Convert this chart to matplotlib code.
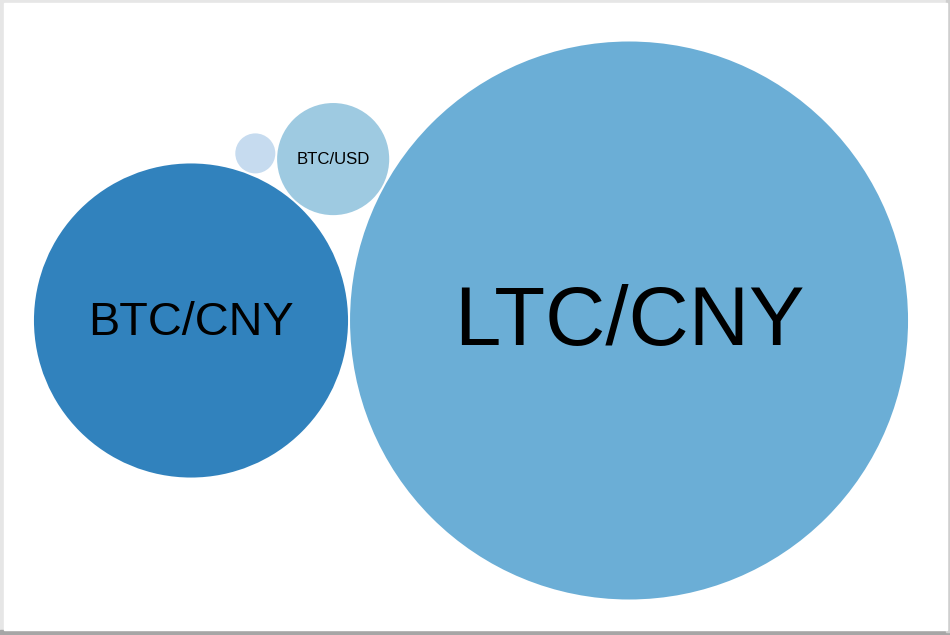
import numpy as np
import matplotlib.pyplot as plt
from matplotlib.patches import Circle, Rectangle

# market volumes per trading pair (bubble area ~ value)
markets = ["LTC/CNY", "BTC/CNY", "BTC/USD", ""]
volumes = [77800, 24650, 3140, 400]
colors = ["#6baed6", "#3182bd", "#9ecae1", "#c6dbef"]

W, H = 950, 635
PAD = 2.0
K = 279 / np.sqrt(max(volumes))  # pixels of radius per sqrt(value)


def tangente(a, b, r, lado):
    """Centro de un circulo de radio r tangente a los circulos a y b."""
    (ax, ay, ra), (bx, by, rb) = a, b
    da, db = ra + r + PAD, rb + r + PAD
    dx, dy = bx - ax, by - ay
    d = np.hypot(dx, dy)
    x = (d ** 2 + da ** 2 - db ** 2) / (2 * d)
    h = np.sqrt(max(da ** 2 - x ** 2, 0))
    ux, uy = dx / d, dy / d
    return ax + ux * x - uy * h * lado, ay + uy * x + ux * h * lado, r


def empacar(valores):
    orden = np.argsort(valores)[::-1]
    radios = [K * np.sqrt(valores[i]) for i in orden]
    c = [(0.0, 0.0, radios[0])]
    c.append((-(radios[0] + radios[1] + PAD), 0.0, radios[1]))
    if len(radios) > 2:
        c.append(tangente(c[1], c[0], radios[2], -1))
    if len(radios) > 3:
        c.append(tangente(c[1], c[2], radios[3], -1))
    res = [None] * len(valores)
    for i, ci in zip(orden, c):
        res[i] = ci
    return res


circulos = empacar(volumes)
xmin = min(x - r for x, y, r in circulos)
xmax = max(x + r for x, y, r in circulos)
ymin = min(y - r for x, y, r in circulos)
ymax = max(y + r for x, y, r in circulos)
ox = 471 - (xmin + xmax) / 2
oy = 320.5 - (ymin + ymax) / 2

fig = plt.figure(figsize=(W / 100, H / 100), dpi=100, facecolor="#e6e6e6")
ax = fig.add_axes([0, 0, 1, 1])
ax.set_xlim(0, W)
ax.set_ylim(H, 0)
ax.set_aspect("equal")
ax.axis("off")

# marco de la pagina
ax.add_patch(Rectangle((0, 630), W, 5, color="#a6a6a6", zorder=0))
ax.add_patch(Rectangle((946, 0), 4, 632, color="#cfcfcf", zorder=0))
ax.add_patch(Rectangle((4, 3), 943, 627, color="white", zorder=1))

for (x, y, r), nombre, color in zip(circulos, markets, colors):
    cx, cy = x + ox, y + oy
    ax.add_patch(Circle((cx, cy), r, facecolor=color, edgecolor="none", zorder=2))
    if nombre and r > 30:
        fs = r * 0.215
        ax.text(cx, cy + 0.3 * fs * 100 / 72, nombre, ha="center", va="baseline",
                fontsize=fs, family="Liberation Sans", color="black", zorder=3)

fig.savefig("out.png", dpi=100, facecolor=fig.get_facecolor())
